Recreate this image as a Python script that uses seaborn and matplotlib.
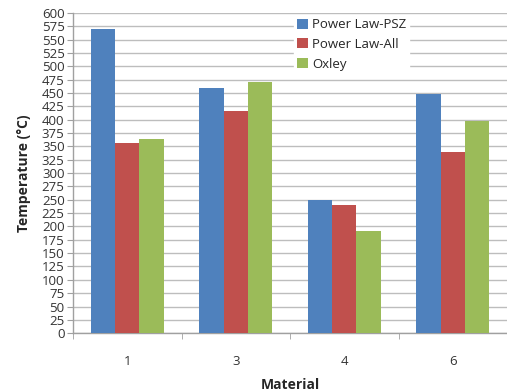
import matplotlib
matplotlib.use("Agg")
import matplotlib.pyplot as plt
import seaborn as sns
import pandas as pd
import numpy as np

materials = ["1", "3", "4", "6"]
series = ["Power Law-PSZ", "Power Law-All", "Oxley"]
psz = [570, 459, 250, 448]
pl_all = [357, 417, 240, 340]
oxley = [364, 470, 192, 398]
colors = ["#4F81BD", "#C0504D", "#9BBB59"]
yticks = list(range(0, 601, 25))

df = pd.DataFrame({
    "Material": materials * 3,
    "Series": sum([[s] * len(materials) for s in series], []),
    "Temperature": psz + pl_all + oxley,
})

sns.set_style("white")
plt.rcParams["font.family"] = ["Open Sans", "DejaVu Sans"]

fig = plt.figure(figsize=(5.07, 3.92), dpi=100)
ax = fig.add_axes([0.144, 0.150, 0.856, 0.817])
sns.barplot(data=df, x="Material", y="Temperature", hue="Series",
            palette=colors, width=0.67, saturation=1, ax=ax, zorder=3,
            errorbar=None, linewidth=0, edgecolor="none")

ax.set_ylim(0, 600)
ax.set_yticks(yticks)
ax.set_xlim(-0.5, 3.5)
ax.yaxis.grid(True, color="#bdbdbd", linewidth=1.0, zorder=0)
ax.set_axisbelow(True)
for s in ["top", "right"]:
    ax.spines[s].set_visible(False)
for s in ["left", "bottom"]:
    ax.spines[s].set_color("#a0a0a0")
    ax.spines[s].set_linewidth(1.0)

ax.tick_params(axis="y", which="major", length=4, color="#a0a0a0", labelsize=9.5,
               labelcolor="#333333", pad=2, left=True)
ax.tick_params(axis="x", which="major", length=0, labelsize=9.5,
               labelcolor="#333333", pad=16)
ax.set_xticks([-0.5, 0.5, 1.5, 2.5], minor=True)
ax.tick_params(axis="x", which="minor", length=4, color="#a0a0a0", bottom=True)

ax.set_ylabel("Temperature (°C)", fontsize=10, fontweight="bold", labelpad=8)
ax.set_xlabel("Material", fontsize=10, fontweight="bold", labelpad=7)

leg = ax.legend(loc="upper left", bbox_to_anchor=(0.495, 1.012), frameon=True,
                fontsize=9.5, handlelength=0.8, handleheight=0.8,
                handletextpad=0.35, labelspacing=0.5, borderpad=0.2)
leg.get_frame().set_edgecolor("white")
leg.get_frame().set_facecolor("white")
leg.get_frame().set_alpha(1)
leg.set_zorder(5)

fig.savefig("out.png", dpi=100)
